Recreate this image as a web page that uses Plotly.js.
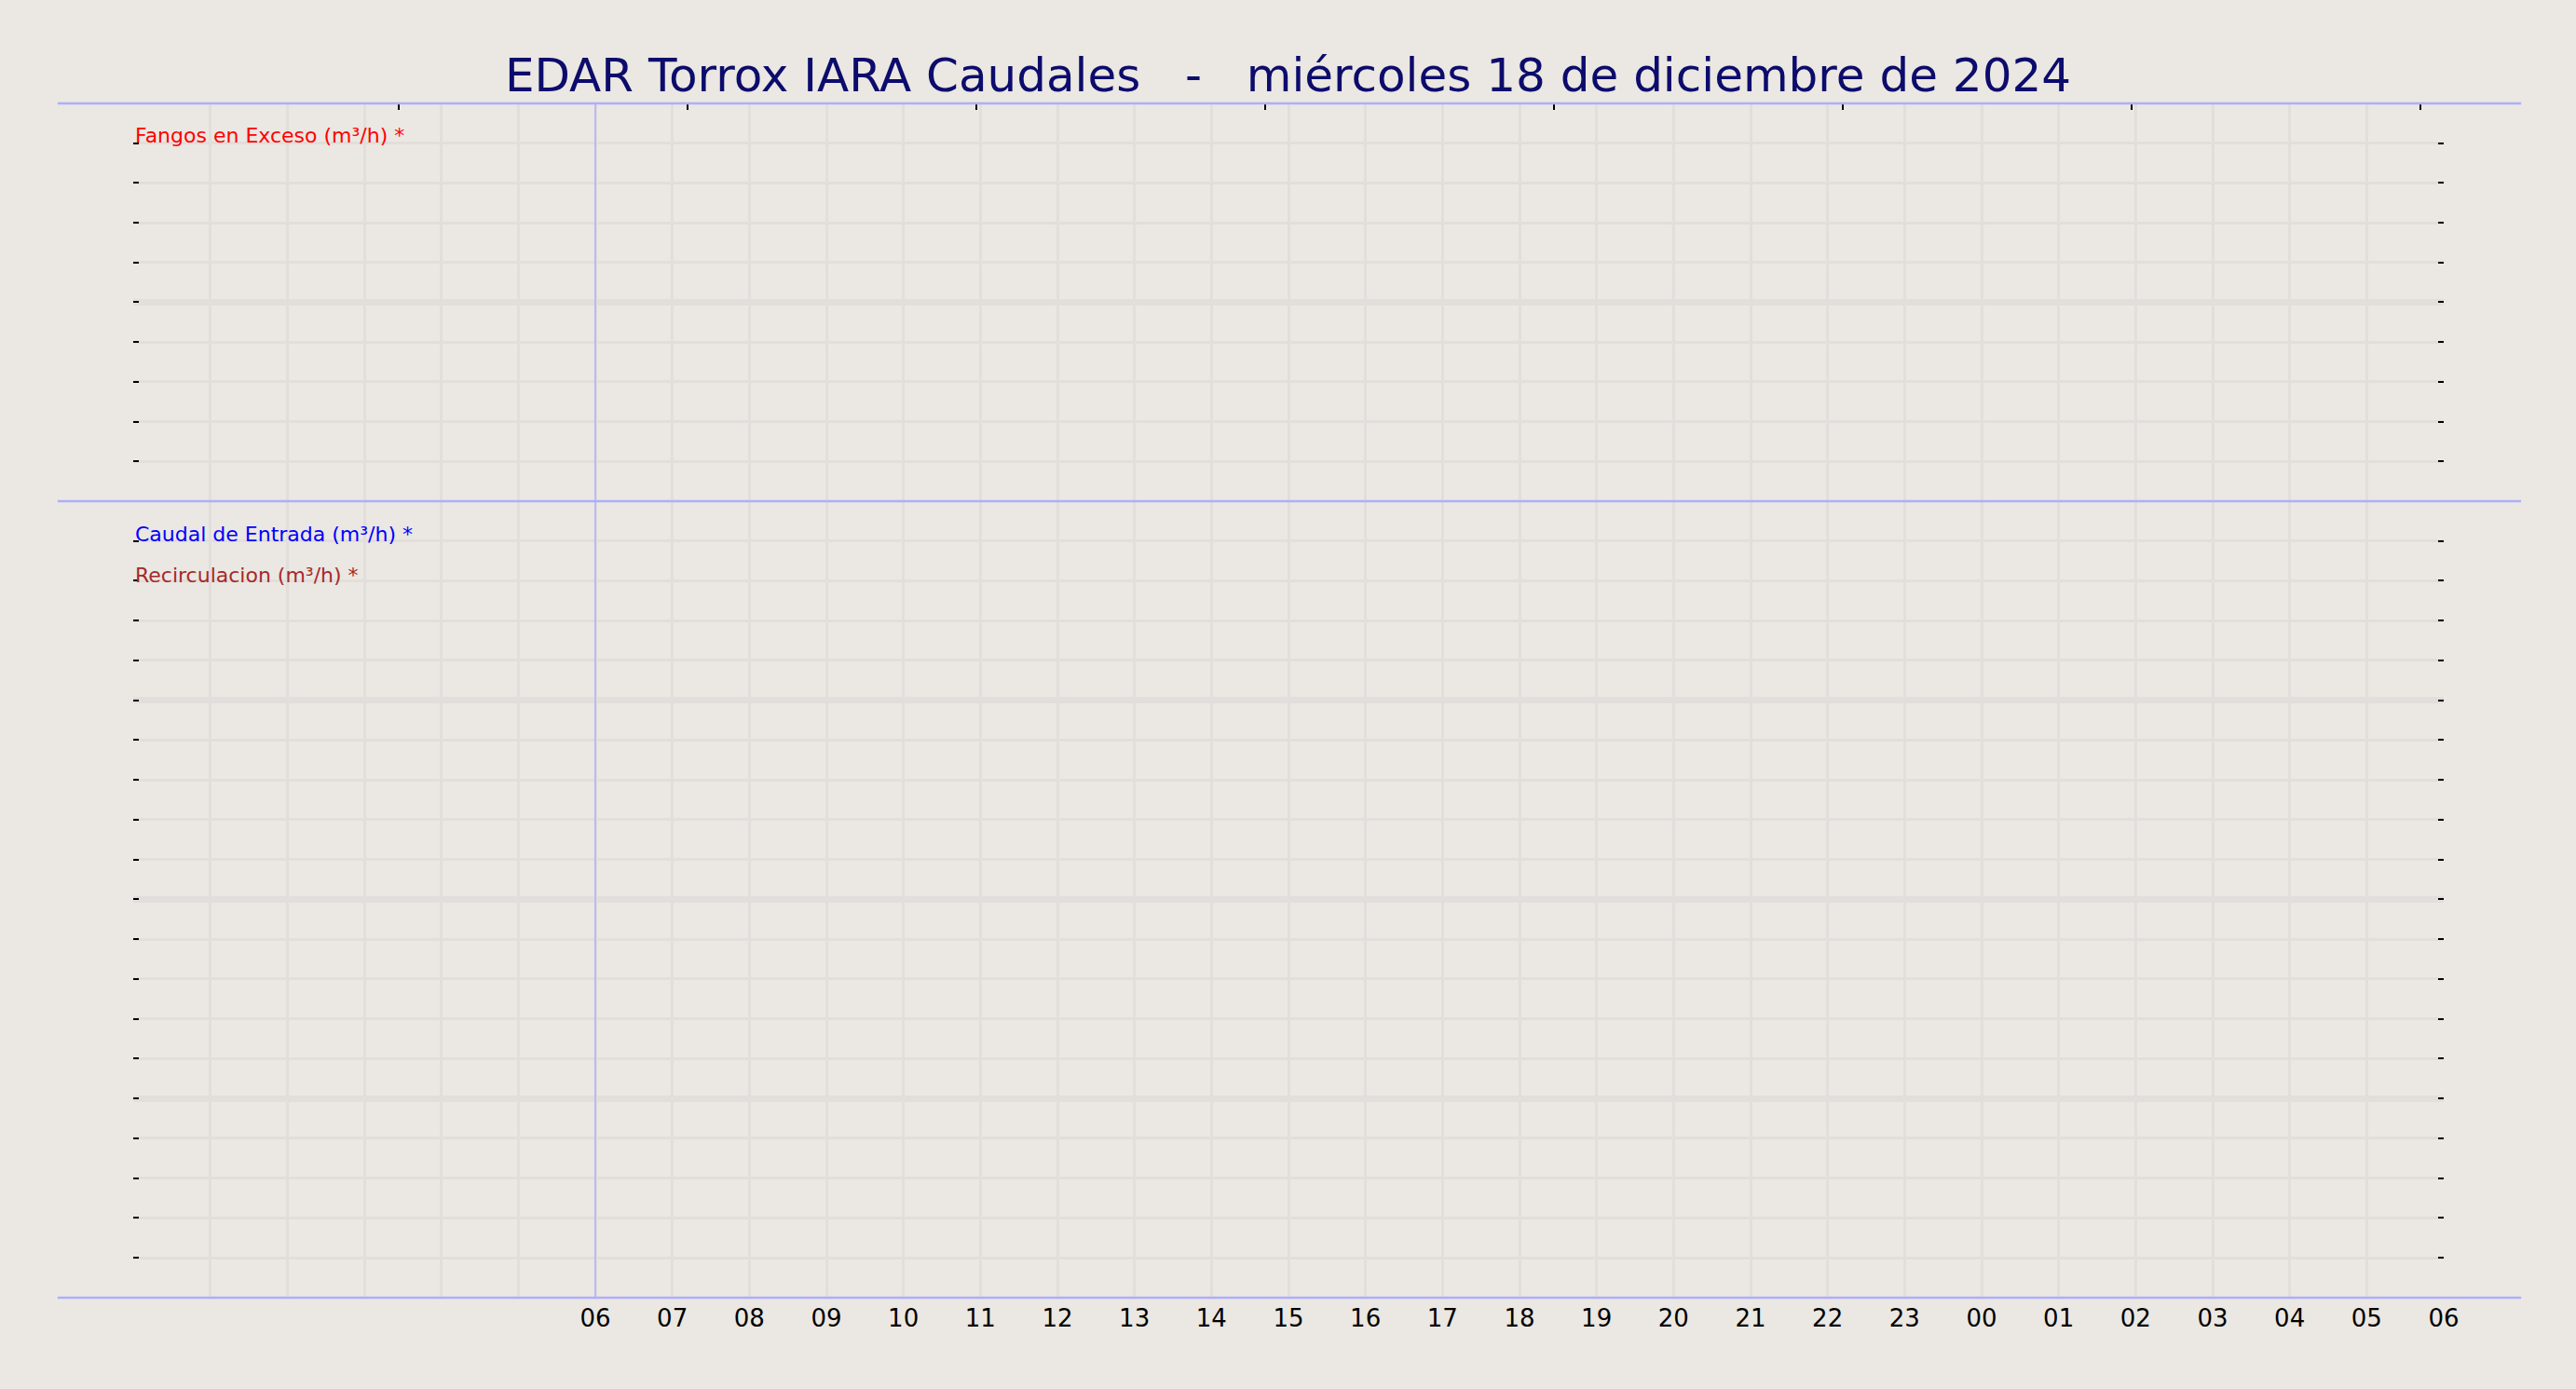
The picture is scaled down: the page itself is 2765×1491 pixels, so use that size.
<!DOCTYPE html>
<html>
<head>
<meta charset="utf-8">
<script src="https://cdn.plot.ly/plotly-3.0.1.min.js"></script>
<style>
    html, body { margin: 0; padding: 0; background: #ebe7e2; }
    #chart { width: 2765px; height: 1491px; }
</style>
</head>
<body>
<div id="chart"></div>
<script>
// no readings on this day: every series is empty
let seriesNames = ['Fangos en Exceso (m³/h) *', 'Caudal de Entrada (m³/h) *', 'Recirculacion (m³/h) *'];
let seriesColors = ['#ff0000', '#0000ff', '#a52a2a'];
let seriesPanels = ['top', 'bottom', 'bottom'];
let seriesTimes = [[], [], []];
let seriesValues = [[], [], []];

let hourTicks = [
    '2024-12-18 00:00', '2024-12-18 01:00', '2024-12-18 02:00', '2024-12-18 03:00',
    '2024-12-18 04:00', '2024-12-18 05:00', '2024-12-18 06:00', '2024-12-18 07:00',
    '2024-12-18 08:00', '2024-12-18 09:00', '2024-12-18 10:00', '2024-12-18 11:00',
    '2024-12-18 12:00', '2024-12-18 13:00', '2024-12-18 14:00', '2024-12-18 15:00',
    '2024-12-18 16:00', '2024-12-18 17:00', '2024-12-18 18:00', '2024-12-18 19:00',
    '2024-12-18 20:00', '2024-12-18 21:00', '2024-12-18 22:00', '2024-12-18 23:00',
    '2024-12-19 00:00', '2024-12-19 01:00', '2024-12-19 02:00', '2024-12-19 03:00',
    '2024-12-19 04:00', '2024-12-19 05:00', '2024-12-19 06:00'
];
let hourLabels = [
    '', '', '', '', '', '', '06', '07', '08', '09', '10', '11', '12', '13', '14', '15',
    '16', '17', '18', '19', '20', '21', '22', '23', '00', '01', '02', '03', '04', '05', '06'
];
let topTicks = [
    '2024-12-18 03:27', '2024-12-18 07:12', '2024-12-18 10:57', '2024-12-18 14:42',
    '2024-12-18 18:27', '2024-12-18 22:12', '2024-12-19 01:57', '2024-12-19 05:42'
];
let dayStart = '2024-12-18 06:00';
let timeRange = ['2024-12-18 00:00', '2024-12-19 06:00'];
let title = 'EDAR Torrox IARA Caudales\u00a0\u00a0\u00a0-\u00a0\u00a0\u00a0miércoles 18 de diciembre de 2024';

let bg = '#ebe7e2';
let gridColor = '#e2dedb';
let markColor = '#aeaefc';
let splitAt = 0.667;

let traces = [];
let notes = [];
let noteY = { top: [0.973], bottom: [0.6395, 0.6053] };
let used = { top: 0, bottom: 0 };

for (let i = 0; i < seriesNames.length; i++) {
    let panel = seriesPanels[i];
    traces.push({
        x: seriesTimes[i],
        y: seriesValues[i],
        name: seriesNames[i],
        type: 'scatter',
        mode: 'lines',
        line: { color: seriesColors[i], width: 2 },
        xaxis: panel === 'top' ? 'x2' : 'x',
        yaxis: panel === 'top' ? 'y2' : 'y',
        showlegend: false
    });
    notes.push({
        text: seriesNames[i],
        xref: 'paper', yref: 'paper',
        x: 0, y: noteY[panel][used[panel]],
        xanchor: 'left', yanchor: 'middle',
        showarrow: false,
        font: { family: 'DejaVu Sans', size: 22, color: seriesColors[i] }
    });
    used[panel]++;
}

function yAxis(domain, top, thick) {
    let minorVals = [];
    for (let v = 0; v <= top; v++) minorVals.push(v);
    return {
        domain: domain,
        range: [0, top],
        tickmode: 'array',
        tickvals: thick,
        showticklabels: false,
        ticks: 'inside',
        ticklen: 6,
        tickwidth: 2,
        tickcolor: '#000000',
        mirror: 'ticks',
        showgrid: true,
        gridcolor: gridColor,
        gridwidth: 7,
        zeroline: false,
        showline: false,
        fixedrange: true,
        minor: {
            tickmode: 'array',
            tickvals: minorVals,
            ticks: 'inside',
            ticklen: 6,
            tickwidth: 2,
            tickcolor: '#000000',
            showgrid: true,
            gridcolor: gridColor,
            gridwidth: 3
        }
    };
}

let layout = {
    width: 2765,
    height: 1491,
    paper_bgcolor: bg,
    plot_bgcolor: bg,
    margin: { l: 143, r: 142, t: 111, b: 98 },
    showlegend: false,
    font: { family: 'DejaVu Sans', color: '#000000' },
    title: {
        text: title,
        x: 0.5,
        xanchor: 'center',
        y: 0.9457,
        yanchor: 'middle',
        font: { family: 'DejaVu Sans', size: 50, color: '#0c0c6c' }
    },
    xaxis: {
        type: 'date',
        range: timeRange,
        anchor: 'y',
        tickmode: 'array',
        tickvals: hourTicks,
        ticktext: hourLabels,
        ticks: '',
        ticklabelstandoff: 4,
        tickfont: { family: 'DejaVu Sans', size: 26, color: '#000000' },
        showgrid: true,
        gridcolor: gridColor,
        gridwidth: 3,
        zeroline: false,
        showline: false
    },
    xaxis2: {
        type: 'date',
        range: timeRange,
        anchor: 'y2',
        side: 'top',
        tickmode: 'array',
        tickvals: topTicks,
        showticklabels: false,
        ticks: 'inside',
        ticklen: 7,
        tickwidth: 2,
        tickcolor: '#000000',
        showgrid: false,
        zeroline: false,
        showline: false,
        minor: {
            tickmode: 'array',
            tickvals: hourTicks,
            ticks: '',
            showgrid: true,
            gridcolor: gridColor,
            gridwidth: 3
        }
    },
    yaxis: yAxis([0, splitAt], 20, [5, 10, 15, 20]),
    yaxis2: yAxis([splitAt, 1], 10, [5]),
    annotations: notes,
    shapes: [
        { type: 'line', xref: 'paper', yref: 'paper', x0: -0.0327, x1: 1.0335, y0: 1, y1: 1,
          line: { color: markColor, width: 2.5 } },
        { type: 'line', xref: 'paper', yref: 'paper', x0: -0.0327, x1: 1.0335, y0: splitAt, y1: splitAt,
          line: { color: markColor, width: 2.5 } },
        { type: 'line', xref: 'paper', yref: 'paper', x0: -0.0327, x1: 1.0335, y0: 0, y1: 0,
          line: { color: markColor, width: 2.5 } },
        { type: 'line', xref: 'x', yref: 'paper', x0: dayStart, x1: dayStart, y0: 0, y1: 1,
          line: { color: markColor, width: 1.5 } }
    ]
};

Plotly.newPlot('chart', traces, layout, { displayModeBar: false, staticPlot: true });
</script>
</body>
</html>
